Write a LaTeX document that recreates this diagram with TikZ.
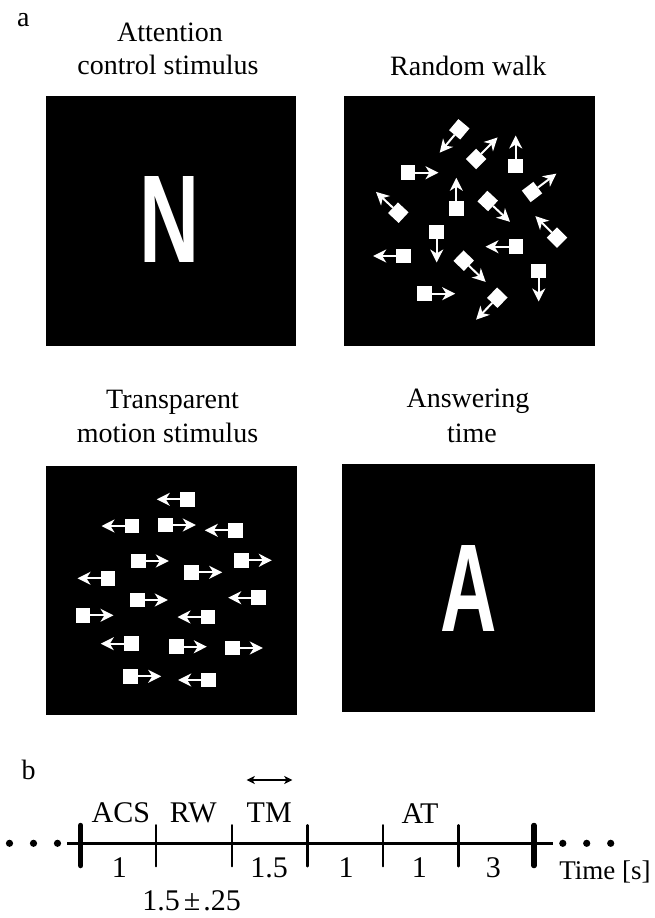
\documentclass[tikz,border=0pt]{standalone}
\usepackage{fontspec}
\setmainfont{Liberation Serif}
\newfontfamily\stimfont{Liberation Sans}
\usetikzlibrary{arrows.meta}

\begin{document}
\begin{tikzpicture}[x=1pt,y=-1pt,
  panel/.style={fill=black},
  lbl/.style={inner sep=0pt, anchor=base, font=\fontsize{28}{34}\selectfont},
  tl/.style={inner sep=0pt, anchor=base, font=\fontsize{30}{36}\selectfont},
  stim/.style={inner sep=0pt, text=white, font=\stimfont\bfseries\fontsize{125}{125}\selectfont},
  dotbox/.style={rectangle, fill=white, draw=none, minimum size=14.5pt, inner sep=0pt, outer sep=0pt},
  mv/.style={draw=white, line width=2pt, -{Stealth[length=13pt,width=13pt,inset=4pt]}},
  thin tick/.style={line width=2.3pt, line cap=round},
  thick tick/.style={line width=5.5pt, line cap=round},
]
\useasboundingbox (0,0) rectangle (655,918);

% ---------- part a: the four stimulus screens ----------
\node[lbl] (la) at (23.3,26.7) {a};

\fill[panel] (45.7,96) rectangle (295.5,345.7);
\fill[panel] (344.3,95.7) rectangle (595,345.7);
\fill[panel] (45.7,465.5) rectangle (296.7,715);
\fill[panel] (342.3,464) rectangle (595,712);

% titles
\node[lbl] (t1a) at (170,41.7) {Attention};
\node[lbl] (t1b) at (168,74) {control stimulus};
\node[lbl] (t2)  at (468.3,75) {Random walk};
\node[lbl] (t3a) at (172.5,408.3) {Transparent};
\node[lbl] (t3b) at (167.5,442.7) {motion stimulus};
\node[lbl] (t4a) at (468,407.3) {Answering};
\node[lbl] (t4b) at (472,442.7) {time};

% letters shown on screen
\node[stim, xscale=0.666] (letN) at (170,219.5) {N};
\node[stim, xscale=0.625] (letA) at (468.5,588) {A};

% random walk: each square moves along its own direction
\foreach \n/\x/\y/\a in {
  r1/459.3/129.3/230, r2/476/159/45, r3/515.7/166/90, r4/408/172.7/0,
  r5/532/192/37, r6/456.3/208.3/90, r7/398.3/212.7/137, r8/487.7/201/-43,
  r9/557/237.7/135, r10/436.7/232/270, r11/516/246.7/180, r12/403.7/256/180,
  r13/463.7/260.7/-44, r14/538.7/271/270, r15/424.7/293.7/0, r16/497.3/297.7/226}{
  \node[dotbox, rotate=\a] (\n) at (\x,\y) {};
  \path (\n.center) ++(\a:30.5pt) coordinate (\n t);
  \draw[mv] (\n) -- (\n t);
}

% transparent motion: two groups moving left and right
\foreach \n/\x/\y/\a in {
  m1/187.3/499.3/180, m2/132/526/180, m3/165.3/525/0, m4/235.3/530.3/180,
  m5/138.3/561/0, m6/241.3/560.3/0, m7/191.7/572.3/0, m8/108/578.3/180,
  m9/137.3/600/0, m10/258.7/597.7/180, m11/83/615.3/0, m12/208/617/180,
  m13/131.3/643.7/180, m14/176.3/646.7/0, m15/232.3/648/0, m16/130.7/676.3/0,
  m17/208.7/680/180}{
  \node[dotbox, rotate=\a] (\n) at (\x,\y) {};
  \path (\n.center) ++(\a:30.5pt) coordinate (\n t);
  \draw[mv] (\n) -- (\n t);
}

% ---------- part b: time line of one trial ----------
\node[lbl] (lb) at (28.5,779.8) {b};

\coordinate (ls) at (67,843.3);
\coordinate (le) at (553.3,843.3);
\draw[line width=3pt] (ls) -- (le);

\foreach \i in {1,...,5}
  \draw[thin tick] ({80.7+75.55*\i},825.2) -- ({80.7+75.55*\i},866.3);
\foreach \i in {0,6}
  \draw[thick tick] ({80.7+75.55*\i},825.5) -- ({80.7+75.55*\i},865.5);

\foreach \x in {9.5,33.5,57.5,562.8,586.7,610.7}
  \fill (\x,843.3) circle (3.6pt);

\node[tl] (acs) at (120.8,822.3) {ACS};
\node[tl] (rw)  at (193.3,822.3) {RW};
\node[tl] (tm)  at (269.2,822.3) {TM};
\node[tl] (at)  at (420,823.3) {AT};

\coordinate (dl) at (246.7,780);
\coordinate (dr) at (292.3,780);
\draw[line width=1.4pt, {Stealth[length=8pt,width=8pt,inset=2pt]}-{Stealth[length=8pt,width=8pt,inset=2pt]}] (dl) -- (dr);

\node[tl] (d1) at (119.3,877) {1};
\node[tl] (d2) at (269.2,877) {1.5};
\node[tl] (d3) at (346,877) {1};
\node[tl] (d4) at (419.3,877) {1};
\node[tl] (d5) at (493.3,877) {3};
\node[tl] (d6) at (191.7,910) {1.5\kern4pt±\kern3pt.25};
\node[inner sep=0pt, anchor=base, font=\fontsize{27}{32}\selectfont] (tu) at (605,879.3) {Time [s]};
\end{tikzpicture}
\end{document}
